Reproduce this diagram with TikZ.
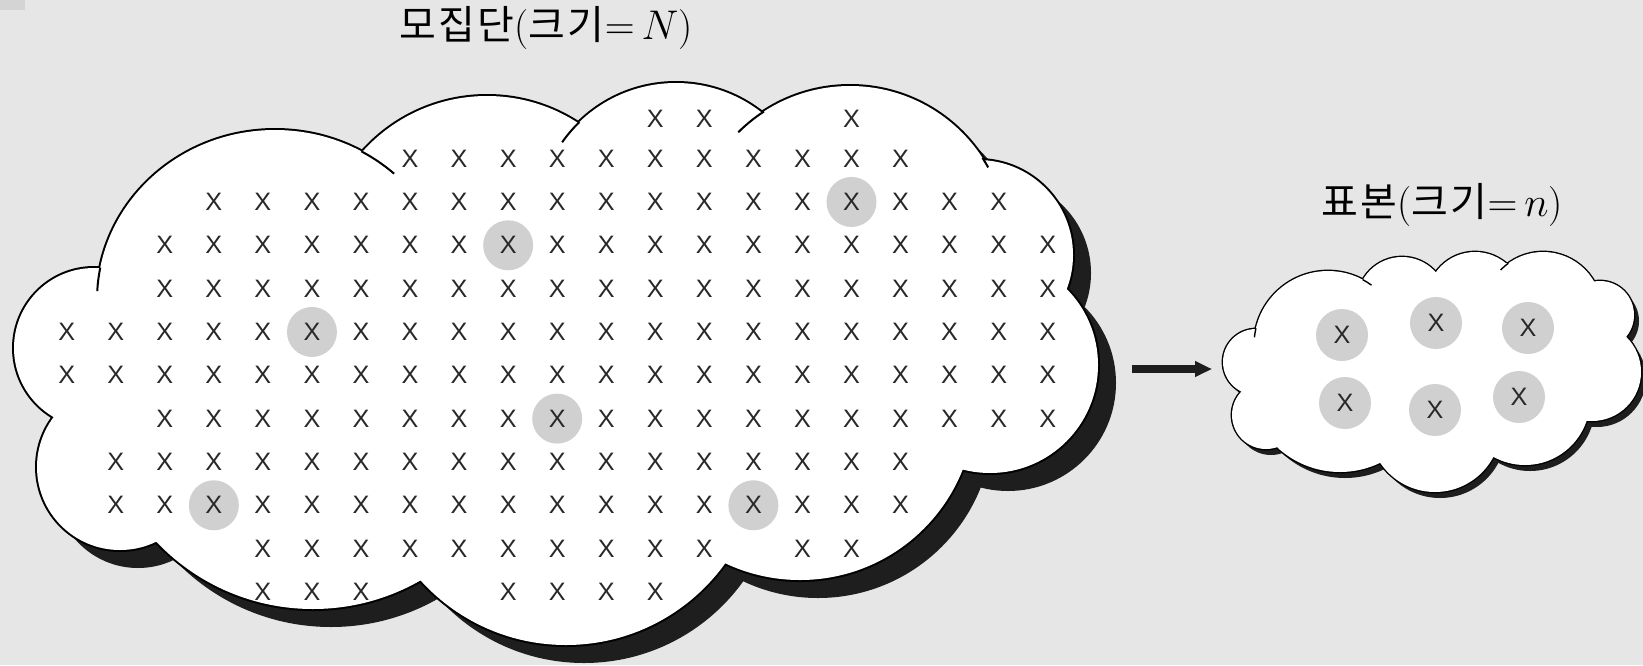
\documentclass[tikz,border=0pt]{standalone}
\usepackage{fontspec}
\usepackage{tikz}
\usetikzlibrary{arrows.meta}
\newfontfamily\kr[LetterSpace=6]{Noto Sans CJK KR}
\newfontfamily\xfont{Liberation Sans}
\definecolor{bggray}{RGB}{230,230,230}
\definecolor{cornergray}{RGB}{212,212,212}
\definecolor{pickgray}{RGB}{208,208,208}
\definecolor{shadowblack}{RGB}{30,30,30}
\definecolor{markgray}{RGB}{40,40,40}

% lobes of the two clouds
\newcommand\poplobes{(94,348) circle (80) (120,467) circle (83) (313,393) circle (216) (566,449) circle (196) (800,405) circle (175) (990,365) circle (108) (978,255) circle (95) (850,244) circle (158) (676,222) circle (139) (487,263) circle (167) (275,300) ellipse (178 and 170)}
\newcommand\popcore{(104,270) -- (362,151) -- (578,123) -- (762,113) -- (983,160) -- (1066,290) -- (962,470) -- (725,562) -- (421,580) -- (157,542) -- (55,417) -- cycle}
\newcommand\samplobes{(1256,362) circle (33) (1266,415) circle (34) (1340,380) circle (92) (1435,426) circle (66) (1525,400) circle (65) (1592,372) circle (49) (1600,315) circle (34) (1543,311) circle (59) (1475,300) circle (48) (1402,302) circle (45) (1328,345) circle (74)}
\newcommand\sampcore{(1260,330) -- (1363,280) -- (1437,273) -- (1508,263) -- (1597,285) -- (1627,333) -- (1587,420) -- (1493,457) -- (1380,463) -- (1280,450) -- (1242,393) -- cycle}

\tikzset{
  xmark/.style={inner sep=0pt, text=markgray, font=\xfont\fontsize{12.6}{13}\selectfont},
  heading/.style={inner sep=0pt, font=\fontsize{20}{24}\selectfont},
  flow/.style={draw=shadowblack, line width=4pt, -{Triangle[length=8.5pt,width=7.5pt]}},
}

\begin{document}
\begin{tikzpicture}[x=0.5pt,y=0.5pt,yscale=-1,xscale=1]
\useasboundingbox (0,0) rectangle (1643,665);
\fill[bggray] (0,0) rectangle (1643,665);
\fill[cornergray] (0,0) rectangle (25,10);

%Shape: population cloud
\fill[shadowblack,shift={(18,18)}] \poplobes;
\fill[shadowblack,shift={(18,18)}] \popcore;
\draw[line width=2pt] \poplobes;
\fill[white] \poplobes;
\fill[white] \popcore;
% lobe ends running on past the cusps
\draw[line width=1pt] ([shift={(191:178 and 170)}]275,300) arc (191:183:178 and 170);
\draw[line width=1pt] ([shift={(-61:178 and 170)}]275,300) arc (-61:-48:178 and 170);
\draw[line width=1pt] ([shift={(215:139)}]676,222) arc (215:226:139);
\draw[line width=1pt] ([shift={(225:158)}]850,244) arc (225:237:158);
\draw[line width=1pt] ([shift={(327:158)}]850,244) arc (327:331:158);

%Shape: sample cloud
\fill[shadowblack,shift={(5,6)}] \samplobes;
\fill[shadowblack,shift={(5,6)}] \sampcore;
\draw[line width=1.4pt] \samplobes;
\fill[white] \samplobes;
\fill[white] \sampcore;
\draw[line width=0.7pt] ([shift={(186:74)}]1328,345) arc (186:193:74);
\draw[line width=0.7pt] ([shift={(-62:74)}]1328,345) arc (-62:-54:74);
\draw[line width=0.7pt] ([shift={(224:59)}]1543,311) arc (224:234:59);

% picked units
\foreach \r/\c in {2/16,3/9,5/5,7/10,9/3,9/14}
  \fill[pickgray] ({66.7+49.05*\c},{115.3+43.33*\r}) circle (25);

% population units
\foreach \r/\cols in {0/{12,13,16},1/{7,...,17},2/{3,...,19},3/{2,...,20},4/{2,...,20},5/{0,...,20},6/{0,...,20},7/{2,...,20},8/{1,...,17},9/{1,...,17},10/{4,5,6,7,8,9,10,11,12,13,15,16},11/{4,5,6,9,10,11,12}}
  \foreach \c in \cols
    \node[xmark] (p-\r-\c) at ({66.7+49.05*\c},{115.3+43.33*\r+4*(\r==0)}) {X};

% sample units
\foreach \i/\x/\y in {1/1342/335,2/1436/323,3/1528/328,4/1345/403,5/1435/410,6/1519/397} {
  \fill[pickgray] (\x,\y) circle (26);
  \node[xmark] (s\i) at (\x,\y) {X};
}

%Straight Lines
\coordinate (popright) at (1132,369);
\coordinate (sampleft) at (1212,369);
\draw[flow] (popright) -- (sampleft);

% Text Node
\node[heading] (poptitle) at (546,28) {{\kr 모집단}({\kr 크기}${=}\,N$)};
% Text Node
\node[heading] (samptitle) at (1442,205) {{\kr 표본}({\kr 크기}${=}\,n$)};

\end{tikzpicture}
\end{document}
